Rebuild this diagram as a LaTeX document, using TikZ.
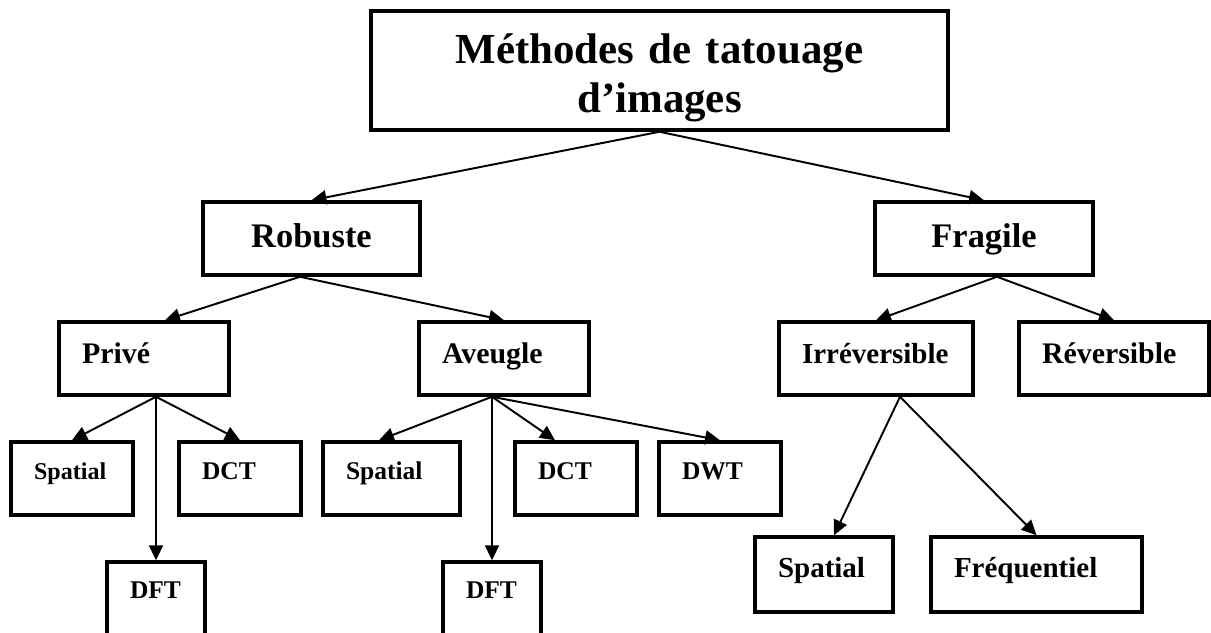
\documentclass[tikz,border=0pt]{standalone}
\usepackage{fontspec}
\setmainfont{Liberation Serif}
\usetikzlibrary{arrows.meta}

\begin{document}
\begin{tikzpicture}[
    box/.style={draw, line width=2pt, inner sep=0pt},
    cell/.style={box, inner xsep=0.46cm, align=left},
    niveau/.style={cell, font=\fontsize{17}{20}\selectfont\bfseries, text height=0.82cm, text depth=0.64cm},
    feuille/.style={cell, font=\fontsize{14.5}{17}\selectfont\bfseries, text height=0.74cm, text depth=0.72cm},
    fleche/.style={-{Triangle[length=8.5pt,width=8pt]}, line width=1.1pt}
]
    \useasboundingbox (0,0) rectangle (24.22,-12.64);

    % Title box
    \node[box, align=center, text width=11cm, inner xsep=0.27cm, text height=1.04cm, text depth=1.34cm,
          font=\fontsize{24.4}{27.9}\selectfont\bfseries] (methodes) at (13.19,-1.41) {Méthodes de tatouage\\d’images};

    % First level
    \node[box, minimum width=4.34cm, text height=0.90cm, text depth=0.56cm, font=\fontsize{19.6}{24}\selectfont\bfseries] (robuste) at (6.23,-4.77) {Robuste};
    \node[box, minimum width=4.36cm, text height=0.90cm, text depth=0.56cm, font=\fontsize{19.6}{24}\selectfont\bfseries] (fragile) at (19.68,-4.77) {Fragile};

    % Second level
    \node[niveau, text width=2.48cm] (prive) at (2.88,-7.17) {Privé};
    \node[niveau, text width=2.48cm] (aveugle) at (10.08,-7.17) {Aveugle};
    \node[niveau, text width=2.96cm, font=\fontsize{16.5}{20}\selectfont\bfseries] (irrev) at (17.52,-7.17) {Irréversible};
    \node[niveau, text width=2.88cm] (rev) at (22.28,-7.17) {Réversible};

    % Leaves under Prive and Aveugle
    \node[feuille, text width=1.52cm, font=\fontsize{13.7}{17}\selectfont\bfseries] (spatialA) at (1.44,-9.57) {Spatial};
    \node[feuille, text width=1.52cm] (dctA) at (4.80,-9.57) {DCT};
    \node[feuille, text width=1.82cm] (spatialB) at (7.83,-9.57) {Spatial};
    \node[feuille, text width=1.52cm] (dctB) at (11.52,-9.57) {DCT};
    \node[feuille, text width=1.52cm] (dwt) at (14.40,-9.57) {DWT};
    \node[feuille, text width=1.04cm, text height=0.72cm, text depth=0.84cm] (dftA) at (3.12,-12.02) {DFT};
    \node[feuille, text width=1.04cm, text height=0.72cm, text depth=0.84cm] (dftB) at (9.84,-12.02) {DFT};

    % Leaves under Irreversible
    \node[niveau, text width=1.84cm, font=\fontsize{16.5}{20}\selectfont\bfseries, text height=0.80cm, text depth=0.70cm] (spatialC) at (16.48,-11.49) {Spatial};
    \node[niveau, text width=3.30cm, font=\fontsize{16.5}{20}\selectfont\bfseries, text height=0.80cm, text depth=0.70cm] (freq) at (20.73,-11.49) {Fréquentiel};

    % Arrows from the title
    \draw[fleche] (methodes.south) -- (robuste.north);
    \draw[fleche] (methodes.south) -- (fragile.north);

    % Robuste branch
    \draw[fleche] ([xshift=-0.23cm]robuste.south) -- ([xshift=0.42cm]prive.north);
    \draw[fleche] ([xshift=-0.23cm]robuste.south) -- (aveugle.north);

    % Fragile branch
    \draw[fleche] ([xshift=0.26cm]fragile.south) -- (irrev.north);
    \draw[fleche] ([xshift=0.26cm]fragile.south) -- (rev.north);

    % Prive
    \draw[fleche] (prive.south -| dftA) -- (spatialA.north);
    \draw[fleche] (prive.south -| dftA) -- (dctA.north);
    \draw[fleche] (prive.south -| dftA) -- (dftA.north);

    % Aveugle
    \draw[fleche] (aveugle.south -| dftB) -- ([xshift=-0.25cm]spatialB.north);
    \draw[fleche] (aveugle.south -| dftB) -- ([xshift=-0.42cm]dctB.north);
    \draw[fleche] (aveugle.south -| dftB) -- (dwt.north);
    \draw[fleche] (aveugle.south -| dftB) -- (dftB.north);

    % Irreversible
    \draw[fleche] ([xshift=0.48cm]irrev.south) -- ([xshift=0.2cm]spatialC.north);
    \draw[fleche] ([xshift=0.48cm]irrev.south) -- (freq.north);
\end{tikzpicture}
\end{document}
